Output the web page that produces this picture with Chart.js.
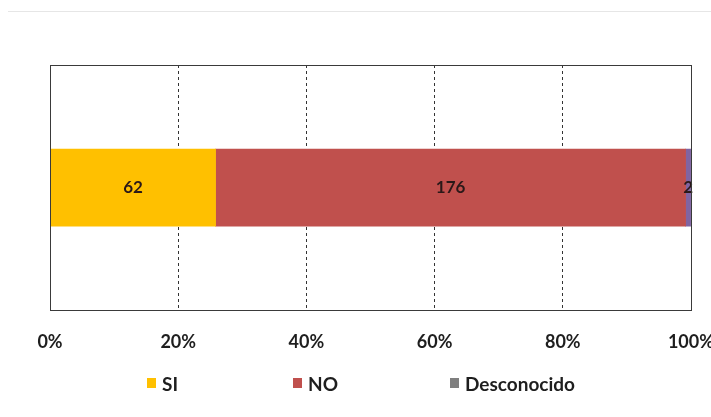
<!DOCTYPE html>
<html>
<head>
<meta charset="utf-8">
<script src="https://cdn.jsdelivr.net/npm/chart.js@4/dist/chart.umd.min.js"></script>
<style>
  html,body{margin:0;padding:0;background:#fff;}
  #wrap{position:relative;width:711px;height:417px;overflow:hidden;}
  #c{position:absolute;left:0;top:0;}
  #topline{position:absolute;left:8px;right:0;top:11px;height:0;border-top:1px solid #e6e6e6;}
  .item{position:absolute;top:372px;display:flex;align-items:center;height:22px;
    font-family:Lato,"Open Sans",sans-serif;font-weight:bold;font-size:19px;color:#1e1e1e;white-space:nowrap;}
  .box{display:inline-block;width:9px;height:10px;margin-right:6px;}
</style>
</head>
<body>
<div id="wrap">
  <canvas id="c" width="735" height="417"></canvas>
  <div id="topline"></div>
</div>
<script>
const categories = [""];
const seriesNames = ["SI", "NO", "Desconocido"];
const siValues = [62];
const noValues = [176];
const descValues = [2];
const tickLabels = ["0%", "20%", "40%", "60%", "80%", "100%"];
const barColors = ["#FFC000", "#C0504D", "#8064A2"];
const legendColors = ["#FFC000", "#C0504D", "#7F7F7F"];
const legendLefts = [147, 293, 450];

const raw = [siValues, noValues, descValues];
const totals = categories.map((_, i) => raw.reduce((s, arr) => s + arr[i], 0));
const pct = raw.map(arr => arr.map((v, i) => v / totals[i] * 100));

const font = "Lato, 'Open Sans', sans-serif";

const valueLabels = {
  id: 'valueLabels',
  afterDatasetsDraw(chart) {
    const ctx = chart.ctx;
    ctx.save();
    ctx.font = "bold 17px " + font;
    ctx.fillStyle = "#2a1818";
    ctx.textAlign = "center";
    ctx.textBaseline = "middle";
    chart.data.datasets.forEach((ds, di) => {
      const meta = chart.getDatasetMeta(di);
      meta.data.forEach((bar, i) => {
        const x = (bar.x + bar.base) / 2;
        ctx.fillText(String(raw[di][i]), x, bar.y);
      });
    });
    ctx.restore();
  }
};

const plotBorder = {
  id: 'plotBorder',
  afterDraw(chart) {
    const a = chart.chartArea, ctx = chart.ctx;
    ctx.save();
    ctx.strokeStyle = "#3a3a3a";
    ctx.lineWidth = 1;
    ctx.strokeRect(Math.round(a.left) + 0.5, Math.round(a.top) + 0.5,
      Math.round(a.right - a.left), Math.round(a.bottom - a.top));
    ctx.restore();
  }
};

new Chart(document.getElementById('c'), {
  type: 'bar',
  data: {
    labels: categories,
    datasets: seriesNames.map((n, i) => ({
      label: n,
      data: pct[i],
      backgroundColor: barColors[i],
      borderWidth: 0,
      barThickness: 77
    }))
  },
  options: {
    responsive: false,
    animation: false,
    indexAxis: 'y',
    layout: { padding: { left: 50, right: 0, top: 65, bottom: 43 } },
    plugins: { legend: { display: false }, tooltip: { enabled: false } },
    scales: {
      x: {
        stacked: true, min: 0, max: 100,
        grid: {
          color: (c) => (c.index === 0 || c.index === tickLabels.length - 1) ? 'rgba(0,0,0,0)' : '#333',
          lineWidth: 1, drawTicks: false
        },
        border: { display: false, dash: [3, 3] },
        ticks: {
          stepSize: 20, padding: 21, color: "#1e1e1e",
          font: { family: font, weight: 'bold', size: 18 },
          callback: (v, i) => tickLabels[i]
        }
      },
      y: {
        stacked: true, display: false,
        grid: { display: false }
      }
    }
  },
  plugins: [valueLabels, plotBorder]
});

const wrap = document.getElementById('wrap');
seriesNames.forEach((n, i) => {
  const s = document.createElement('span');
  s.className = 'item';
  s.style.left = legendLefts[i] + 'px';
  const b = document.createElement('span');
  b.className = 'box';
  b.style.background = legendColors[i];
  s.appendChild(b);
  s.appendChild(document.createTextNode(n));
  wrap.appendChild(s);
});
</script>
</body>
</html>
